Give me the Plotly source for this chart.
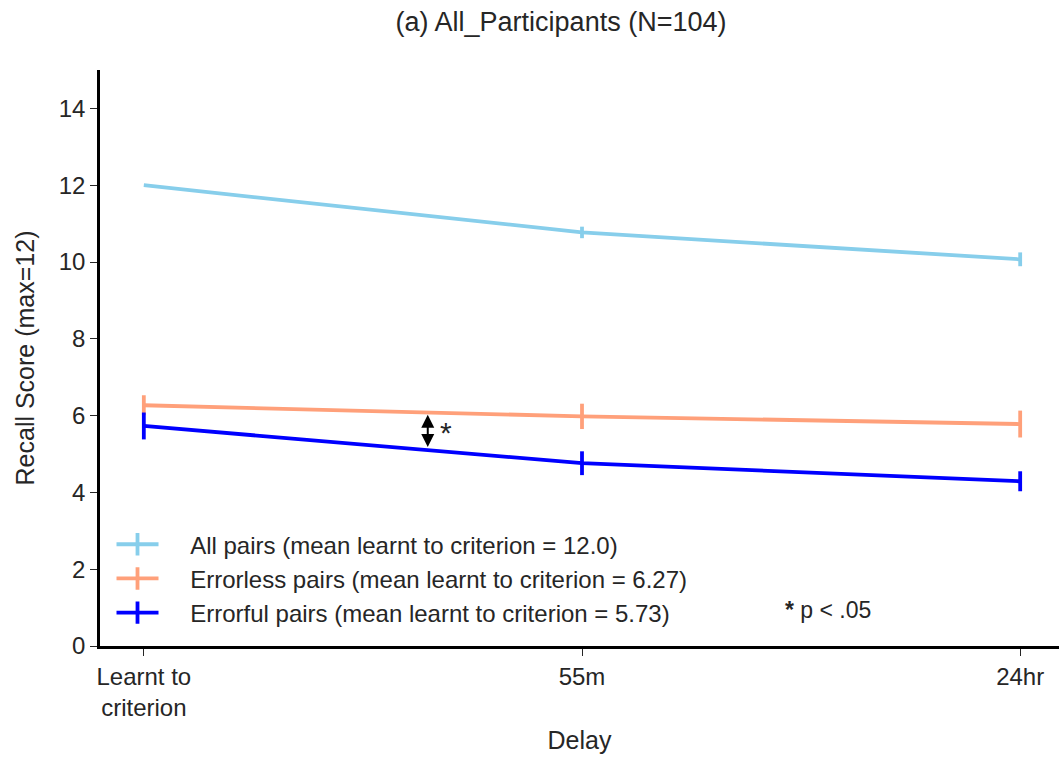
import plotly.graph_objects as go

# Delay conditions and mean recall (with standard errors)
delays = ["Learnt to<br>criterion", "55m", "24hr"]
all_pairs = [12.0, 10.77, 10.07]
all_pairs_se = [0.0, 0.15, 0.18]
errorless = [6.27, 5.98, 5.78]
errorless_se = [0.26, 0.33, 0.35]
errorful = [5.73, 4.76, 4.29]
errorful_se = [0.35, 0.31, 0.26]

series_names = [
    "All pairs (mean learnt to criterion = 12.0)",
    "Errorless pairs (mean learnt to criterion = 6.27)",
    "Errorful pairs (mean learnt to criterion = 5.73)",
]
colors = ["#87CEEB", "#FFA07A", "#0000FF"]

FONT = "Liberation Sans, Arial, sans-serif"
TXT = "#262626"
PAD = "\u00a0" * 4

xpos = list(range(len(delays)))
fig = go.Figure()

for i, (name, y, se, c) in enumerate(zip(series_names, [all_pairs, errorless, errorful],
                                         [all_pairs_se, errorless_se, errorful_se], colors)):
    fig.add_trace(go.Scatter(
        x=xpos, y=y, mode="lines", name=name, showlegend=False,
        line=dict(color=c, width=3.8),
        error_y=dict(type="data", array=se, visible=True, color=c,
                     thickness=3.8, width=0),
    ))
    # legend entry with a cross-shaped errorbar glyph
    fig.add_trace(go.Scatter(
        x=[None], y=[None], mode="lines+markers", name=PAD + name,
        legendgroup=f"g{i}",
        line=dict(color=c, width=3.8),
        marker=dict(symbol="line-ns", size=22, line=dict(color=c, width=3.8)),
    ))

# significance marker between errorless and errorful
x_sig = 0.648
fig.add_annotation(x=x_sig, y=5.18, ax=x_sig, ay=6.06, xref="x", yref="y",
                   axref="x", ayref="y", showarrow=True, text="",
                   arrowhead=2, startarrowhead=2, arrowside="end+start",
                   arrowsize=1.3, startarrowsize=1.3, arrowwidth=2,
                   arrowcolor="black")
fig.add_annotation(x=0.69, y=5.55, xref="x", yref="y", text="*",
                   showarrow=False, font=dict(family=FONT, size=30, color=TXT))
fig.add_annotation(x=1.562, y=0.93, xref="x", yref="y",
                   text="<b>*</b> p < .05", showarrow=False,
                   font=dict(family=FONT, size=23, color=TXT))

fig.update_layout(
    width=1059, height=760,
    margin=dict(l=100, r=0, t=70, b=114),
    paper_bgcolor="white", plot_bgcolor="white",
    font=dict(family=FONT, color=TXT),
    title=dict(text="(a) All_Participants (N=104)", x=561 / 1059, xanchor="center",
               y=1 - 22 / 760, yanchor="middle",
               font=dict(family=FONT, size=27, color=TXT)),
    legend=dict(x=0.012, y=0.215, xanchor="left", yanchor="top",
                bgcolor="rgba(0,0,0,0)", itemwidth=42,
                font=dict(family=FONT, size=24, color=TXT),
                tracegroupgap=0),
    showlegend=True,
)
fig.update_xaxes(
    range=[-0.1, 2.0886], tickvals=xpos, ticktext=delays,
    showline=True, linecolor="black", linewidth=2.5, mirror=False,
    ticks="outside", ticklen=7, tickwidth=1, tickcolor=TXT,
    showgrid=False, zeroline=False,
    tickfont=dict(family=FONT, size=24, color=TXT),
    title=dict(text="Delay", font=dict(family=FONT, size=25, color=TXT), standoff=12),
)
fig.update_yaxes(
    range=[0, 15], tickvals=list(range(0, 15, 2)),
    showline=True, linecolor="black", linewidth=2.5,
    ticks="outside", ticklen=7, tickwidth=1, tickcolor=TXT,
    showgrid=False, zeroline=False,
    tickfont=dict(family=FONT, size=24, color=TXT),
    title=dict(text="Recall Score (max=12)", font=dict(family=FONT, size=25, color=TXT),
               standoff=17),
)

fig.write_html("out.html")
